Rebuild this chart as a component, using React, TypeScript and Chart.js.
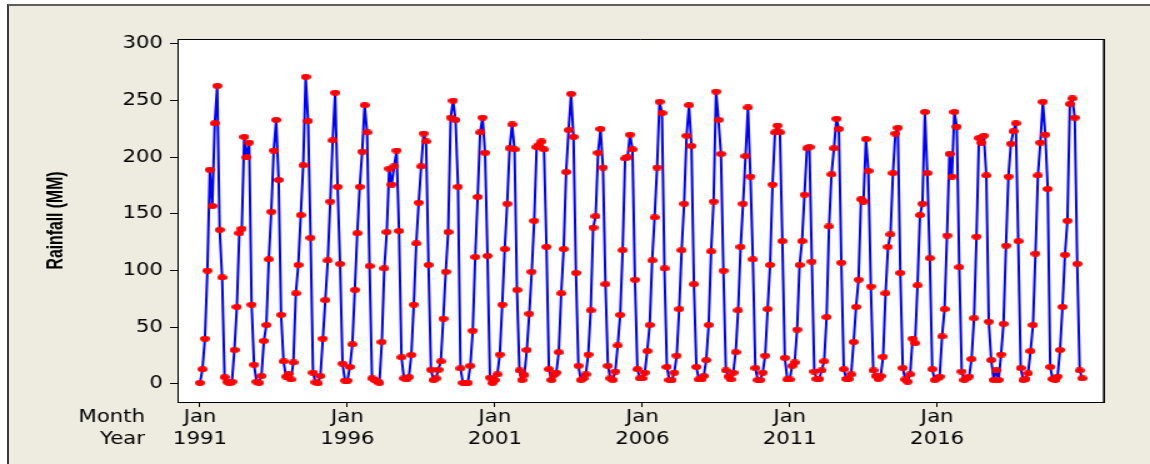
import { useEffect, useRef } from 'react';
import { Chart, registerables } from 'chart.js';

Chart.register(...registerables);

// Monthly rainfall (mm), January to December of each year
const rain1991 = [1, 13, 40, 100, 189, 157, 230, 263, 136, 94, 6, 2];
const rain1992 = [0.6, 2, 30, 68, 133, 137, 218, 200, 213, 70, 17, 2];
const rain1993 = [1, 7, 38, 52, 110, 152, 206, 233, 180, 61, 20, 6.5];
const rain1994 = [9, 4, 19, 80, 105, 149, 193, 271, 232, 129, 10, 1.5];
const rain1995 = [0.6, 7, 40, 74, 109, 161, 215, 257, 174, 106, 18, 3];
const rain1996 = [3, 15, 35, 83, 133, 174, 205, 246, 222, 104, 5, 3.5];
const rain1997 = [2.6, 1, 37, 102, 134, 190, 176, 192, 206, 135, 23.5, 5];
const rain1998 = [4, 6, 25.6, 70, 124, 160, 192, 221, 214, 105, 12.6, 3.5];
const rain1999 = [5, 12.6, 20, 57.6, 99, 134, 235, 250, 233, 174, 13.8, 1];
const rain2000 = [1, 1, 16, 47, 112, 165, 222, 235, 204, 113, 5.6, 1];
const rain2001 = [3.5, 8.5, 26, 70, 119, 159, 208, 229, 207, 83, 12, 3.5];
const rain2002 = [8, 30, 62, 99, 144, 209, 211, 214, 207, 121, 13, 3.5];
const rain2003 = [8, 10, 28, 80, 119, 187, 224, 256, 218, 98, 16, 3.5];
const rain2004 = [5, 8.5, 26, 65, 138, 148, 204, 225, 191, 88, 16, 5];
const rain2005 = [3.5, 11, 34, 61, 118, 199, 200, 220, 207, 92, 13, 5];
const rain2006 = [5, 10, 29, 52, 109, 147, 191, 249, 239, 102, 15, 3.5];
const rain2007 = [3.5, 10, 25, 66, 118, 159, 219, 246, 210, 88, 15, 4];
const rain2008 = [4, 7, 21, 52, 117, 161, 258, 233, 203, 100, 12, 6.5];
const rain2009 = [4, 10, 28, 65, 121, 159, 201, 244, 183, 110, 14, 3.5];
const rain2010 = [3.5, 10, 25, 66, 105, 176, 222, 228, 222, 126, 23, 4];
const rain2011 = [4, 16, 19, 48, 105, 126, 167, 208, 209, 108, 11, 4.4];
const rain2012 = [4.4, 12, 20, 59, 139, 185, 208, 234, 225, 107, 13, 4.4];
const rain2013 = [4.4, 8.5, 37, 68, 92, 163, 161, 216, 188, 86, 12, 7];
const rain2014 = [4.4, 7, 24, 80, 121, 132, 186, 221, 226, 98, 14, 4];
const rain2015 = [2, 8.5, 40, 36, 87, 149, 159, 240, 186, 111, 13, 3.5];
const rain2016 = [5, 6.5, 42, 66, 131, 203, 183, 240, 227, 103, 11, 3.5];
const rain2017 = [5, 6.5, 22, 58, 130, 217, 213, 219, 184, 55, 21, 3.5];
const rain2018 = [12, 3.5, 26, 53, 122, 183, 212, 223, 230, 126, 14, 3.5];
const rain2019 = [4.4, 9.4, 29, 52, 115, 184, 213, 249, 220, 172, 15, 4.4];
const rain2020 = [3.5, 6.5, 30, 68, 114, 144, 247, 252, 235, 106, 12, 5];

const START_YEAR = 1991;
const yearlyRainfall = [
  rain1991, rain1992, rain1993, rain1994, rain1995, rain1996, rain1997, rain1998,
  rain1999, rain2000, rain2001, rain2002, rain2003, rain2004, rain2005, rain2006,
  rain2007, rain2008, rain2009, rain2010, rain2011, rain2012, rain2013, rain2014,
  rain2015, rain2016, rain2017, rain2018, rain2019, rain2020,
];
const monthlyRainfall = yearlyRainfall.flat();

// Axis ticks and texts
const yTickValues = [0, 50, 100, 150, 200, 250, 300];
const xTickYears = [1991, 1996, 2001, 2006, 2011, 2016];
const xTickMonth = 'Jan';
const rowLabels = ['Month', 'Year'];
const yTitle = 'Rainfall (MM)';

// Page geometry (the canvas is drawn narrow and widened horizontally)
const PAGE_W = 1150;
const PAGE_H = 464;
const STRETCH = 1.25;
const CANVAS_W = PAGE_W / STRETCH;
const AREA_LEFT = 178 / STRETCH;
const AREA_RIGHT = 1104 / STRETCH;
const AREA_TOP = 39;
const AREA_BOTTOM = 402;
const X_MIN = -8.95;
const X_MAX = 367.9;
const Y_MIN = -15.9;
const Y_MAX = 304.4;

const TICK_FAMILY = '"DejaVu Sans", Verdana, sans-serif';
const TICK_SIZE = 17;
const TICK_LINE = 22;
const X_TICK_LEN = 5;
const Y_TICK_LEN = 8 / STRETCH;
const TITLE_FONT = 'bold 18px "Liberation Sans", Arial, sans-serif';
const TITLE_LENGTH = 98;
const TITLE_CENTER_X = 56.5 / STRETCH;
const ROW_LABEL_RIGHT = 145 / STRETCH;

function makeMarker(): HTMLCanvasElement {
  const c = document.createElement('canvas');
  c.width = 8;
  c.height = 6;
  const g = c.getContext('2d')!;
  g.fillStyle = '#ff0000';
  g.beginPath();
  g.ellipse(4, 3, 4, 3, 0, 0, Math.PI * 2);
  g.fill();
  return c;
}

const framePlugin = {
  id: 'plotFrame',
  beforeDraw(chart: any) {
    const { ctx, chartArea: a } = chart;
    ctx.save();
    ctx.fillStyle = '#ffffff';
    ctx.fillRect(a.left, a.top, a.right - a.left, a.bottom - a.top);
    ctx.restore();
  },
  afterDraw(chart: any) {
    const { ctx, chartArea: a } = chart;
    ctx.save();
    ctx.strokeStyle = '#000000';
    ctx.lineWidth = 1;
    ctx.beginPath();
    ctx.moveTo(a.left, a.top + 0.5);
    ctx.lineTo(a.right, a.top + 0.5);
    ctx.stroke();
    ctx.lineWidth = 1.6;
    ctx.beginPath();
    ctx.moveTo(a.right, a.top);
    ctx.lineTo(a.right, a.bottom + 0.5);
    ctx.stroke();

    // Row captions for the two-line time axis
    ctx.fillStyle = '#000000';
    ctx.font = `${TICK_SIZE}px ${TICK_FAMILY}`;
    ctx.textAlign = 'right';
    ctx.textBaseline = 'middle';
    const firstLine = a.bottom + X_TICK_LEN + TICK_LINE / 2;
    rowLabels.forEach((label, i) => {
      ctx.fillText(label, ROW_LABEL_RIGHT, firstLine + i * TICK_LINE);
    });

    // Vertical axis title, condensed along its length
    ctx.font = TITLE_FONT;
    const w = ctx.measureText(yTitle).width;
    ctx.translate(TITLE_CENTER_X, (a.top + a.bottom) / 2);
    ctx.rotate(-Math.PI / 2);
    ctx.scale(TITLE_LENGTH / w, 1);
    ctx.textAlign = 'center';
    ctx.textBaseline = 'middle';
    ctx.fillText(yTitle, 0, 0);
    ctx.restore();
  },
};

export default function App() {
  const canvasRef = useRef<HTMLCanvasElement | null>(null);

  useEffect(() => {
    const canvas = canvasRef.current;
    if (!canvas) return;
    const tickFont = { family: TICK_FAMILY, size: TICK_SIZE, lineHeight: TICK_LINE / TICK_SIZE };

    const chart = new Chart(canvas, {
      type: 'line',
      data: {
        datasets: [
          {
            data: monthlyRainfall.map((v, i) => ({ x: i, y: v })),
            borderColor: '#0000ff',
            borderWidth: 2,
            borderJoinStyle: 'round',
            backgroundColor: '#ff0000',
            pointStyle: makeMarker(),
            pointRadius: 3,
            pointHoverRadius: 3,
            tension: 0,
            fill: false,
          },
        ],
      },
      plugins: [framePlugin],
      options: {
        responsive: false,
        animation: false,
        devicePixelRatio: 1,
        events: [],
        layout: {
          padding: { left: 0, top: AREA_TOP, right: CANVAS_W - AREA_RIGHT, bottom: 0 },
        },
        plugins: {
          legend: { display: false },
          tooltip: { enabled: false },
        },
        scales: {
          x: {
            type: 'linear',
            min: X_MIN,
            max: X_MAX,
            afterBuildTicks: (scale: any) => {
              scale.ticks = xTickYears.map((y) => ({ value: (y - START_YEAR) * 12 }));
            },
            afterFit: (scale: any) => {
              scale.height = PAGE_H - AREA_BOTTOM;
            },
            ticks: {
              autoSkip: false,
              maxRotation: 0,
              minRotation: 0,
              padding: 0,
              color: '#000000',
              font: tickFont,
              callback: (value: any) => [xTickMonth, String(START_YEAR + Number(value) / 12)],
            },
            grid: {
              drawOnChartArea: false,
              drawTicks: true,
              tickLength: X_TICK_LEN,
              color: '#000000',
              lineWidth: 1,
            },
            border: { display: true, color: '#000000', width: 1 },
          },
          y: {
            type: 'linear',
            min: Y_MIN,
            max: Y_MAX,
            afterBuildTicks: (scale: any) => {
              scale.ticks = yTickValues.map((v) => ({ value: v }));
            },
            afterFit: (scale: any) => {
              scale.width = AREA_LEFT;
            },
            ticks: {
              padding: AREA_LEFT - Y_TICK_LEN - 163 / STRETCH,
              color: '#000000',
              font: tickFont,
            },
            grid: {
              drawOnChartArea: false,
              drawTicks: true,
              tickLength: Y_TICK_LEN,
              color: '#000000',
              lineWidth: 1,
            },
            border: { display: true, color: '#000000', width: 1 },
          },
        },
      },
    } as any);

    return () => chart.destroy();
  }, []);

  return (
    <div
      style={{
        position: 'fixed',
        left: 0,
        top: 0,
        width: PAGE_W,
        height: PAGE_H,
        background: '#ffffff',
        overflow: 'hidden',
      }}
    >
      <div
        style={{
          position: 'absolute',
          left: 7,
          top: 4,
          right: 0,
          bottom: 0,
          background: '#eeebe1',
          borderLeft: '2px solid #3a3a3a',
          borderTop: '2px solid #5e5e5e',
        }}
      />
      <canvas
        ref={canvasRef}
        width={CANVAS_W}
        height={PAGE_H}
        style={{
          position: 'absolute',
          left: 0,
          top: 0,
          width: CANVAS_W,
          height: PAGE_H,
          transform: `scaleX(${STRETCH})`,
          transformOrigin: '0 0',
        }}
      />
    </div>
  );
}
